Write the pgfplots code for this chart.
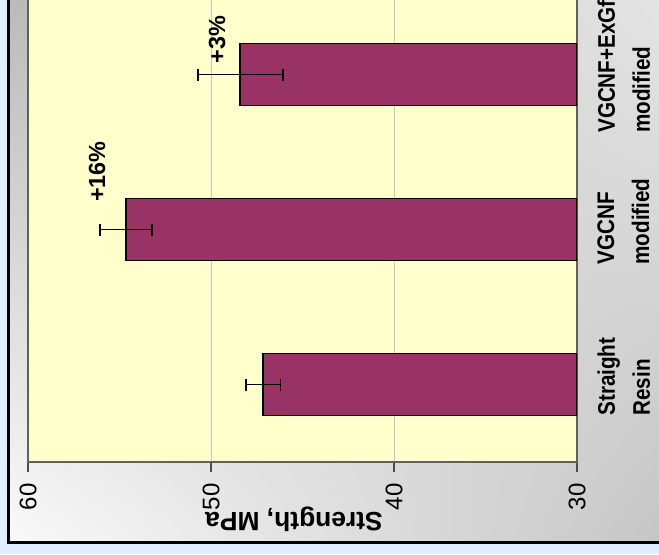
\documentclass[border=0pt]{standalone}
\usepackage{pgfplots}
\pgfplotsset{compat=1.18}
\usetikzlibrary{shadings}
\usepackage{fontspec}
\setmainfont{Liberation Sans}
\newfontfamily\narrowfont{Liberation Sans}[FakeStretch=0.86]
\definecolor{bgblue}{RGB}{221,238,254}
\definecolor{plotyellow}{RGB}{255,255,204}
\definecolor{barplum}{RGB}{153,51,102}
\definecolor{cUL}{RGB}{186,186,186}
\definecolor{cUR}{RGB}{228,228,228}
\definecolor{cLL}{RGB}{250,250,250}
\definecolor{cLR}{RGB}{198,198,198}
\begin{document}
\begin{tikzpicture}
\begin{scope}
\clip (-14pt,-46pt) rectangle (315.5pt,231pt);
\fill[bgblue] (-14pt,-46pt) rectangle (315.5pt,231pt);
\shade[upper left=cUL, upper right=cUR, lower left=cLL, lower right=cLR] (-9.75pt,-40pt) rectangle (315.5pt,231pt);
\draw[black, line width=1.5pt] (-9.75pt,240pt) -- (-9.75pt,-40pt) -- (330pt,-40pt);
\begin{axis}[
  at={(0,0)}, anchor=south west,
  scale only axis, width=274.5pt, height=232.5pt,
  xbar, bar width=31pt,
  xmin=-60, xmax=-30, ymin=-0.5, ymax=2.5,
  xtick={-60,-50,-40,-30}, xticklabels={60,50,40,30},
  ytick=\empty,
  xtick pos=bottom, tick align=outside, major tick length=5pt,
  xticklabel style={rotate=90, anchor=east, inner sep=0pt, font=\fontsize{12}{14}\selectfont},
  xticklabel shift=5.5pt,
  xmajorgrids, grid style={draw=gray!45, line width=0.5pt},
  axis background/.style={fill=plotyellow},
  axis line style={draw=gray!75!black, line width=1.1pt},
  tick style={draw=gray!60!black, line width=0.6pt},
]
\addplot[fill=barplum, draw=black, line width=0.9pt,
  error bars/.cd, x dir=both, x explicit,
  error bar style={black, line width=0.9pt},
  error mark options={rotate=90, black, line width=0.9pt, mark size=3pt}]
  coordinates {(-47.15,0) +- (0.95,0) (-54.65,1) +- (1.43,0) (-48.4,2) +- (2.32,0)};
\node[rotate=90, font=\bfseries\fontsize{11.7}{13}\selectfont] at (axis cs:-56.23,1.374) {+16\%};
\node[rotate=90, font=\bfseries\fontsize{11.7}{13}\selectfont] at (axis cs:-49.67,2.226) {+3\%};
\end{axis}
\foreach \i/\t in {0/{Straight\\Resin}, 1/{VGCNF\\modified}, 2/{VGCNF+ExGf\\modified}}{
  \node[rotate=90, anchor=north, align=left, inner sep=0pt, font=\narrowfont\bfseries\fontsize{12}{17.5}\selectfont] at (284.5pt, {(\i+0.5)*77.5pt+4pt}) {\t};
}
\node[rotate=180, font=\bfseries\fontsize{13.2}{15}\selectfont] at (133pt,-28.75pt) {Strength, MPa};
\end{scope}
\pgfresetboundingbox
\useasboundingbox (-14pt,-46pt) rectangle (315.5pt,231pt);
\end{tikzpicture}
\end{document}
